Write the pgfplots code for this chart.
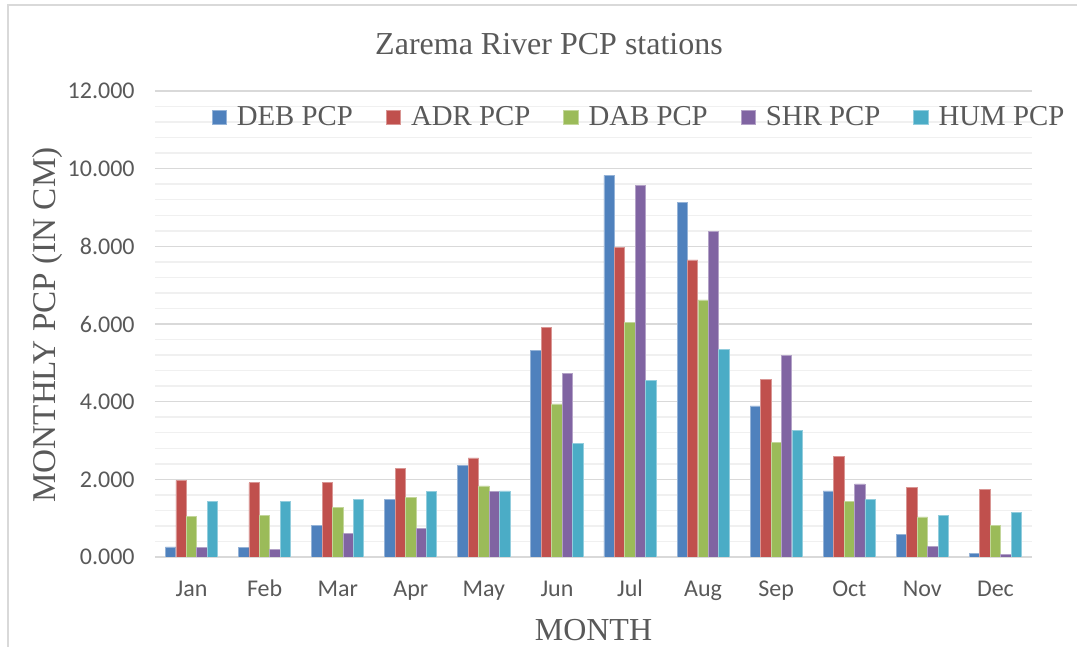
\documentclass[border=0pt]{standalone}
\usepackage{pgfplots}
\pgfplotsset{compat=1.18}
\usepackage{fontspec}
\setmainfont{Liberation Serif}
\newfontfamily\calibri{Carlito}
\definecolor{cDEB}{HTML}{4F81BD}
\definecolor{cADR}{HTML}{C0504D}
\definecolor{cDAB}{HTML}{9BBB59}
\definecolor{cSHR}{HTML}{8064A2}
\definecolor{cHUM}{HTML}{4BACC6}
\definecolor{txt}{HTML}{595959}
\definecolor{majgrid}{HTML}{D9D9D9}
\definecolor{mingrid}{HTML}{F0F0F0}
\begin{document}
\begin{tikzpicture}
\useasboundingbox (-77.5pt,-45pt) rectangle (461pt,278.5pt);
\draw[majgrid, line width=0.75pt] (-73.5pt,-46pt) -- (-73.5pt,276pt) -- (462pt,276pt);
\begin{axis}[
  scale only axis,
  width=438.5pt, height=233pt,
  xmin=-0.5, xmax=11.5, ymin=0, ymax=12,
  ybar,
  bar width=5.2pt,
  xtick={0,...,11},
  xticklabels={Jan,Feb,Mar,Apr,May,Jun,Jul,Aug,Sep,Oct,Nov,Dec},
  ytick={0,2,...,12},
  minor y tick num=4,
  ymajorgrids, yminorgrids,
  major grid style={majgrid, line width=0.75pt},
  minor grid style={mingrid, line width=0.75pt},
  axis line style={draw=none},
  tick style={draw=none},
  /pgf/number format/.cd, fixed, fixed zerofill, precision=3, assume math mode=true,
  /pgfplots/.cd,
  yticklabel style={font=\calibri\fontsize{12}{14}\selectfont, text=txt, inner sep=0pt, anchor=east, xshift=-10pt},
  xticklabel style={font=\calibri\fontsize{12}{14}\selectfont, text=txt, inner sep=0pt, anchor=base, yshift=-15.5pt},
  legend style={draw=none, fill=none, at={(0.553,0.943)}, anchor=center,
    font=\fontsize{14.4}{16}\selectfont, text=txt, inner sep=0pt,
    /tikz/every odd column/.append style={column sep=3pt},
    /tikz/every even column/.append style={column sep=14.5pt}},
  legend columns=5,
  legend cell align=left,
  legend image code/.code={\fill[#1] (0pt,-3.6pt) rectangle (7.2pt,3.6pt);},
]
\addplot[fill=cDEB, draw=cDEB!60!white, line width=0.4pt, bar shift=-10.45pt] coordinates {
(0,0.26) (1,0.25) (2,0.82) (3,1.49) (4,2.36) (5,5.33) (6,9.83) (7,9.14) (8,3.89) (9,1.70) (10,0.58) (11,0.09)};
\addplot[fill=cADR, draw=cADR!60!white, line width=0.4pt, bar shift=-5.22pt] coordinates {
(0,1.97) (1,1.91) (2,1.92) (3,2.28) (4,2.55) (5,5.92) (6,7.96) (7,7.65) (8,4.58) (9,2.58) (10,1.78) (11,1.75)};
\addplot[fill=cDAB, draw=cDAB!60!white, line width=0.4pt, bar shift=0pt] coordinates {
(0,1.04) (1,1.08) (2,1.28) (3,1.54) (4,1.83) (5,3.94) (6,6.05) (7,6.62) (8,2.96) (9,1.44) (10,1.03) (11,0.81)};
\addplot[fill=cSHR, draw=cSHR!60!white, line width=0.4pt, bar shift=5.22pt] coordinates {
(0,0.24) (1,0.19) (2,0.61) (3,0.74) (4,1.68) (5,4.73) (6,9.56) (7,8.39) (8,5.20) (9,1.88) (10,0.28) (11,0.07)};
\addplot[fill=cHUM, draw=cHUM!60!white, line width=0.4pt, bar shift=10.45pt] coordinates {
(0,1.43) (1,1.43) (2,1.49) (3,1.69) (4,1.70) (5,2.93) (6,4.55) (7,5.35) (8,3.27) (9,1.49) (10,1.08) (11,1.15)};
\legend{DEB PCP, ADR PCP, DAB PCP, SHR PCP, HUM PCP}
\end{axis}
\node[anchor=base, text=txt, font=\fontsize{16}{18}\selectfont, inner sep=0pt] at (197pt,251pt) {Zarema River PCP stations};
\node[anchor=base, text=txt, font=\fontsize{16}{18}\selectfont, inner sep=0pt] at (219.25pt,-42pt) {MONTH};
\node[anchor=base, rotate=90, text=txt, font=\fontsize{16.6}{18}\selectfont, inner sep=0pt] at (-49.5pt,116pt) {MONTHLY PCP (IN CM)};
\end{tikzpicture}
\end{document}
